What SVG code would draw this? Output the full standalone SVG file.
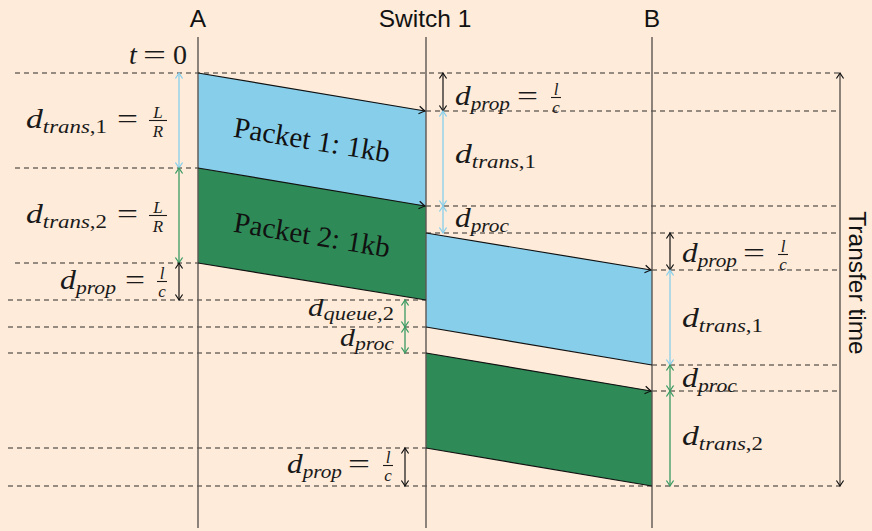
<svg xmlns="http://www.w3.org/2000/svg" width="872" height="531" viewBox="0 0 872 531">
  <defs>
    <style>
      .bg { fill: #feebd9; }
      .dash { stroke: #2f2c2a; stroke-width: 1.2; stroke-dasharray: 5 4; fill: none; }
      .life { stroke: #5c5652; stroke-width: 1.4; fill: none; }
      .edge { stroke: #111; stroke-width: 1.2; fill: none; }
      .pk1 { fill: #87ceeb; }
      .pk2 { fill: #2e8b57; }
      .ak { stroke: #111; stroke-width: 1.2; fill: none; marker-start: url(#ah-k); marker-end: url(#ah-k); }
      .ab { stroke: #87ceeb; stroke-width: 1.3; fill: none; marker-start: url(#ah-b); marker-end: url(#ah-b); }
      .ag { stroke: #3a9a62; stroke-width: 1.3; fill: none; marker-start: url(#ah-g); marker-end: url(#ah-g); }
      .tt { stroke: #5c5652; stroke-width: 1.4; fill: none; marker-start: url(#ah-k); marker-end: url(#ah-k); }
      .sans { font-family: "Liberation Sans", Arial, sans-serif; font-size: 24.5px; fill: #111; }
      .m { font-family: "Liberation Serif", "DejaVu Serif", serif; font-size: 28px; fill: #1a1a1a; }
      .ms { font-size: 26px; }
      .i { font-style: italic; }
      .sub { font-size: 19px; font-style: italic; }
      .subr { font-size: 19px; font-style: normal; }
      .fr { font-family: "Liberation Serif", "DejaVu Serif", serif; font-size: 17px; font-style: italic; fill: #1a1a1a; text-anchor: middle; }
      .bar { stroke: #1a1a1a; stroke-width: 1.1; }
      .pkt { font-family: "Liberation Serif", "DejaVu Serif", serif; font-size: 29px; fill: #111; text-anchor: middle; }
    </style>
    <marker id="ah-k" markerUnits="userSpaceOnUse" orient="auto-start-reverse" refX="0" refY="0" overflow="visible">
      <path d="M-5.5,-3.6 Q-1.6,-0.9 0,0 Q-1.6,0.9 -5.5,3.6" fill="none" stroke="#111" stroke-width="1.2"/>
    </marker>
    <marker id="ah-b" markerUnits="userSpaceOnUse" orient="auto-start-reverse" refX="0" refY="0" overflow="visible">
      <path d="M-5.5,-3.6 Q-1.6,-0.9 0,0 Q-1.6,0.9 -5.5,3.6" fill="none" stroke="#87ceeb" stroke-width="1.3"/>
    </marker>
    <marker id="ah-g" markerUnits="userSpaceOnUse" orient="auto-start-reverse" refX="0" refY="0" overflow="visible">
      <path d="M-5.5,-3.6 Q-1.6,-0.9 0,0 Q-1.6,0.9 -5.5,3.6" fill="none" stroke="#3a9a62" stroke-width="1.3"/>
    </marker>
    <marker id="ah-e" markerUnits="userSpaceOnUse" orient="auto" refX="0" refY="0" overflow="visible">
      <path d="M-6,-3.8 Q-1.8,-0.9 0,0 Q-1.8,0.9 -6,3.8" fill="none" stroke="#111" stroke-width="1.2"/>
    </marker>
  </defs>

  <rect class="bg" x="0" y="0" width="872" height="531"/>

  <!-- time reference lines -->
  <g id="guides">
    <line class="dash" x1="15" y1="73" x2="840" y2="73"/>
    <line class="dash" x1="426" y1="111" x2="840" y2="111"/>
    <line class="dash" x1="15" y1="168" x2="198" y2="168"/>
    <line class="dash" x1="426" y1="206" x2="840" y2="206"/>
    <line class="dash" x1="426" y1="233" x2="840" y2="233"/>
    <line class="dash" x1="15" y1="263" x2="198" y2="263"/>
    <line class="dash" x1="652" y1="270" x2="840" y2="270"/>
    <line class="dash" x1="8" y1="300" x2="426" y2="300"/>
    <line class="dash" x1="8" y1="327" x2="426" y2="327"/>
    <line class="dash" x1="8" y1="353" x2="426" y2="353"/>
    <line class="dash" x1="652" y1="365" x2="840" y2="365"/>
    <line class="dash" x1="652" y1="391" x2="840" y2="391"/>
    <line class="dash" x1="8" y1="448" x2="426" y2="448"/>
    <line class="dash" x1="8" y1="486" x2="840" y2="486"/>
  </g>

  <!-- packets in flight -->
  <g id="packet1-a">
    <polygon class="pk1" points="198,73 426,111 426,206 198,168"/>
    <text class="pkt" transform="translate(310.5,149.5) rotate(9.46)" textLength="158" lengthAdjust="spacingAndGlyphs">Packet 1: 1kb</text>
  </g>
  <g id="packet2-a">
    <polygon class="pk2" points="198,168 426,206 426,300 198,263"/>
    <text class="pkt" transform="translate(310.5,244.5) rotate(9.46)" textLength="158" lengthAdjust="spacingAndGlyphs">Packet 2: 1kb</text>
  </g>
  <g id="packet1-b">
    <polygon class="pk1" points="426,233 652,270 652,365 426,327"/>
  </g>
  <g id="packet2-b">
    <polygon class="pk2" points="426,353 652,391 652,486 426,448"/>
  </g>

  <!-- hosts and switch -->
  <g id="node-a">
    <line class="life" x1="198" y1="37" x2="198" y2="528"/>
    <text class="sans" x="198" y="27" text-anchor="middle">A</text>
  </g>
  <g id="node-switch">
    <line class="life" x1="426" y1="37" x2="426" y2="528"/>
    <text class="sans" x="425" y="27" text-anchor="middle">Switch 1</text>
  </g>
  <g id="node-b">
    <line class="life" x1="652" y1="37" x2="652" y2="528"/>
    <text class="sans" x="652" y="27" text-anchor="middle">B</text>
  </g>

  <!-- connectors: packet edges and delay spans -->
  <g id="connectors">
    <line class="edge" x1="198" y1="73" x2="425" y2="111" marker-end="url(#ah-e)"/>
    <line class="edge" x1="198" y1="168" x2="425" y2="206" marker-end="url(#ah-e)"/>
    <line class="edge" x1="198" y1="263" x2="426" y2="300"/>
    <line class="edge" x1="426" y1="233" x2="651" y2="270" marker-end="url(#ah-e)"/>
    <line class="edge" x1="426" y1="327" x2="652" y2="365"/>
    <line class="edge" x1="426" y1="353" x2="651" y2="391" marker-end="url(#ah-e)"/>
    <line class="edge" x1="426" y1="448" x2="652" y2="486"/>

    <line class="ab" x1="179" y1="73" x2="179" y2="168"/>
    <line class="ag" x1="179" y1="168" x2="179" y2="263"/>
    <line class="ak" x1="179" y1="263" x2="179" y2="300"/>

    <line class="ag" x1="405" y1="300" x2="405" y2="327"/>
    <line class="ag" x1="405" y1="327" x2="405" y2="353"/>
    <line class="ak" x1="405" y1="448" x2="405" y2="486"/>

    <line class="ak" x1="443" y1="73" x2="443" y2="111"/>
    <line class="ab" x1="443" y1="111" x2="443" y2="206"/>
    <line class="ab" x1="443" y1="206" x2="443" y2="233"/>

    <line class="ak" x1="670" y1="233" x2="670" y2="270"/>
    <line class="ab" x1="670" y1="270" x2="670" y2="365"/>
    <line class="ag" x1="670" y1="365" x2="670" y2="391"/>
    <line class="ag" x1="670" y1="391" x2="670" y2="486"/>

    <line class="tt" x1="840" y1="73" x2="840" y2="486"/>
  </g>

  <!-- delay labels -->
  <g id="label-t0">
    <text class="m i" x="129" y="64">t</text>
    <text class="m" x="143" y="64" textLength="23" lengthAdjust="spacingAndGlyphs">=</text>
    <text class="m" x="187" y="64" text-anchor="end">0</text>
  </g>
  <g id="label-trans1-a">
    <text class="m" x="26" y="128" textLength="81" lengthAdjust="spacingAndGlyphs"><tspan class="i">d</tspan><tspan class="sub" dy="5">trans</tspan><tspan class="subr">,1</tspan></text>
    <text class="m" x="117" y="128" textLength="21" lengthAdjust="spacingAndGlyphs">=</text>
    <text class="fr" x="158" y="117.5">L</text>
    <line class="bar" x1="149" y1="120.5" x2="167" y2="120.5"/>
    <text class="fr" x="158" y="136.5">R</text>
  </g>
  <g id="label-trans2-a">
    <text class="m" x="26" y="223" textLength="81" lengthAdjust="spacingAndGlyphs"><tspan class="i">d</tspan><tspan class="sub" dy="5">trans</tspan><tspan class="subr">,2</tspan></text>
    <text class="m" x="117" y="223" textLength="21" lengthAdjust="spacingAndGlyphs">=</text>
    <text class="fr" x="158" y="212.5">L</text>
    <line class="bar" x1="149" y1="215.5" x2="167" y2="215.5"/>
    <text class="fr" x="158" y="231.5">R</text>
  </g>
  <g id="label-prop-a">
    <text class="m" x="60" y="289" textLength="56" lengthAdjust="spacingAndGlyphs"><tspan class="i">d</tspan><tspan class="sub" dy="5">prop</tspan></text>
    <text class="m" x="125" y="289" textLength="20" lengthAdjust="spacingAndGlyphs">=</text>
    <text class="fr" x="162" y="278.5">l</text>
    <line class="bar" x1="157" y1="281.5" x2="167" y2="281.5"/>
    <text class="fr" x="162" y="297">c</text>
  </g>
  <g id="label-queue-s">
    <text class="m ms" x="308" y="316" textLength="86" lengthAdjust="spacingAndGlyphs"><tspan class="i">d</tspan><tspan class="sub" dy="4">queue</tspan><tspan class="subr">,2</tspan></text>
  </g>
  <g id="label-proc2-s">
    <text class="m ms" x="340" y="346" textLength="54" lengthAdjust="spacingAndGlyphs"><tspan class="i">d</tspan><tspan class="sub" dy="4">proc</tspan></text>
  </g>
  <g id="label-prop2-s">
    <text class="m" x="287" y="473" textLength="55" lengthAdjust="spacingAndGlyphs"><tspan class="i">d</tspan><tspan class="sub" dy="5">prop</tspan></text>
    <text class="m" x="348" y="473" textLength="22" lengthAdjust="spacingAndGlyphs">=</text>
    <text class="fr" x="388" y="462.5">l</text>
    <line class="bar" x1="383" y1="465.5" x2="393" y2="465.5"/>
    <text class="fr" x="388" y="481">c</text>
  </g>
  <g id="label-prop1-s">
    <text class="m" x="455" y="105" textLength="55" lengthAdjust="spacingAndGlyphs"><tspan class="i">d</tspan><tspan class="sub" dy="5">prop</tspan></text>
    <text class="m" x="517" y="105" textLength="21" lengthAdjust="spacingAndGlyphs">=</text>
    <text class="fr" x="556" y="94.5">l</text>
    <line class="bar" x1="551" y1="97.5" x2="561" y2="97.5"/>
    <text class="fr" x="556" y="113">c</text>
  </g>
  <g id="label-trans1-s">
    <text class="m" x="455" y="163" textLength="81" lengthAdjust="spacingAndGlyphs"><tspan class="i">d</tspan><tspan class="sub" dy="5">trans</tspan><tspan class="subr">,1</tspan></text>
  </g>
  <g id="label-proc1-s">
    <text class="m" x="455" y="227" textLength="54" lengthAdjust="spacingAndGlyphs"><tspan class="i">d</tspan><tspan class="sub" dy="5">proc</tspan></text>
  </g>
  <g id="label-prop1-b">
    <text class="m" x="682" y="262" textLength="55" lengthAdjust="spacingAndGlyphs"><tspan class="i">d</tspan><tspan class="sub" dy="5">prop</tspan></text>
    <text class="m" x="743" y="262" textLength="22" lengthAdjust="spacingAndGlyphs">=</text>
    <text class="fr" x="783" y="251.5">l</text>
    <line class="bar" x1="778" y1="254.5" x2="788" y2="254.5"/>
    <text class="fr" x="783" y="270">c</text>
  </g>
  <g id="label-trans1-b">
    <text class="m" x="682" y="327" textLength="81" lengthAdjust="spacingAndGlyphs"><tspan class="i">d</tspan><tspan class="sub" dy="5">trans</tspan><tspan class="subr">,1</tspan></text>
  </g>
  <g id="label-proc-b">
    <text class="m" x="682" y="387" textLength="55" lengthAdjust="spacingAndGlyphs"><tspan class="i">d</tspan><tspan class="sub" dy="5">proc</tspan></text>
  </g>
  <g id="label-trans2-b">
    <text class="m" x="682" y="445" textLength="81" lengthAdjust="spacingAndGlyphs"><tspan class="i">d</tspan><tspan class="sub" dy="5">trans</tspan><tspan class="subr">,2</tspan></text>
  </g>
  <g id="label-transfer">
    <text class="sans" transform="translate(849,283) rotate(90)" text-anchor="middle">Transfer time</text>
  </g>
</svg>
